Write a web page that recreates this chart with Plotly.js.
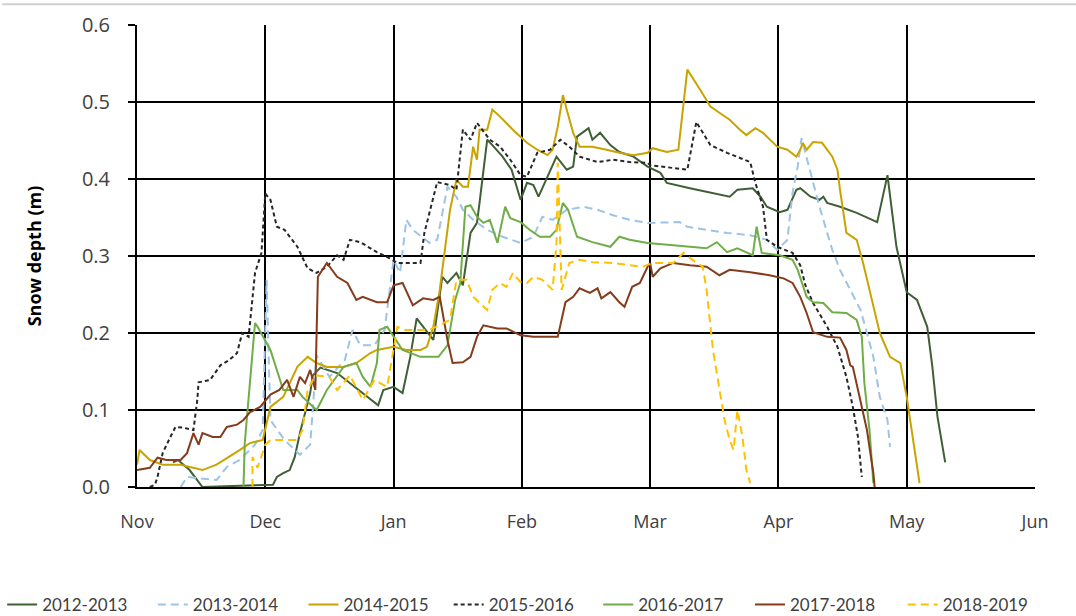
<!DOCTYPE html>
<html>
<head>
<meta charset="utf-8">
<script src="https://cdn.plot.ly/plotly-3.0.1.min.js"></script>
<style>html,body{margin:0;padding:0;background:#fff;}#chart{width:1076px;height:616px;}</style>
</head>
<body>
<div id="chart"></div>
<script>
// x = months since 1 November (0 = Nov, 1 = Dec, ... 7 = Jun); y = snow depth (m)
const monthLabels = ["Nov", "Dec", "Jan", "Feb", "Mar", "Apr", "May", "Jun"];
const seasons = ["2012-2013", "2013-2014", "2014-2015", "2015-2016", "2016-2017", "2017-2018", "2018-2019"];

const s2012_2013 = [[0.28,0.032],[0.32,0.035],[0.41,0.022],[0.51,0],[1.06,0.003],[1.09,0.013],[1.14,0.018],[1.19,0.022],[1.23,0.039],[1.27,0.070],[1.31,0.096],[1.35,0.122],[1.37,0.145],[1.43,0.155],[1.56,0.148],[1.66,0.135],[1.76,0.122],[1.88,0.106],[1.92,0.126],[2.00,0.130],[2.07,0.122],[2.13,0.169],[2.18,0.219],[2.23,0.208],[2.31,0.191],[2.38,0.273],[2.42,0.265],[2.49,0.278],[2.54,0.262],[2.60,0.330],[2.65,0.343],[2.67,0.369],[2.73,0.451],[2.77,0.444],[2.85,0.429],[2.92,0.412],[2.99,0.373],[3.04,0.395],[3.09,0.392],[3.13,0.377],[3.20,0.403],[3.27,0.429],[3.35,0.412],[3.40,0.416],[3.43,0.455],[3.48,0.461],[3.52,0.466],[3.55,0.451],[3.61,0.460],[3.69,0.444],[3.76,0.435],[3.87,0.429],[3.98,0.416],[4.08,0.408],[4.13,0.395],[4.31,0.388],[4.62,0.377],[4.68,0.386],[4.80,0.388],[4.86,0.377],[4.91,0.364],[5.01,0.357],[5.07,0.360],[5.14,0.386],[5.17,0.388],[5.25,0.377],[5.32,0.373],[5.35,0.377],[5.38,0.369],[5.48,0.364],[5.61,0.356],[5.77,0.344],[5.85,0.405],[5.92,0.312],[6.00,0.253],[6.08,0.243],[6.16,0.208],[6.20,0.156],[6.24,0.091],[6.30,0.032]];

const s2013_2014 = [[0.34,0],[0.39,0.013],[0.62,0.009],[0.70,0.026],[0.80,0.035],[0.92,0.055],[0.98,0.074],[1.01,0.269],[1.04,0.087],[1.15,0.061],[1.27,0.042],[1.35,0.055],[1.37,0.100],[1.40,0.171],[1.50,0.143],[1.62,0.165],[1.68,0.204],[1.74,0.184],[1.85,0.184],[1.93,0.204],[2.00,0.295],[2.05,0.278],[2.10,0.347],[2.15,0.334],[2.28,0.317],[2.34,0.321],[2.42,0.390],[2.49,0.377],[2.54,0.360],[2.62,0.347],[2.73,0.334],[2.85,0.325],[2.99,0.317],[3.09,0.325],[3.16,0.351],[3.24,0.347],[3.35,0.360],[3.48,0.364],[3.59,0.360],[3.71,0.353],[3.84,0.347],[3.98,0.343],[4.23,0.344],[4.29,0.338],[4.44,0.334],[4.60,0.330],[4.78,0.327],[4.91,0.321],[4.99,0.308],[5.07,0.321],[5.11,0.382],[5.15,0.416],[5.18,0.453],[5.21,0.434],[5.26,0.399],[5.32,0.364],[5.38,0.330],[5.42,0.308],[5.48,0.282],[5.56,0.256],[5.64,0.230],[5.69,0.200],[5.74,0.169],[5.79,0.117],[5.85,0.087],[5.87,0.052]];

const s2014_2015 = [[0,0.029],[0.02,0.048],[0.10,0.035],[0.20,0.029],[0.34,0.029],[0.51,0.022],[0.62,0.029],[0.72,0.039],[0.80,0.048],[0.88,0.057],[0.98,0.061],[1.04,0.104],[1.14,0.117],[1.25,0.156],[1.33,0.169],[1.40,0.161],[1.48,0.156],[1.61,0.156],[1.71,0.161],[1.82,0.174],[1.87,0.178],[2.00,0.182],[2.10,0.178],[2.21,0.178],[2.26,0.182],[2.31,0.208],[2.36,0.256],[2.42,0.334],[2.44,0.360],[2.49,0.399],[2.54,0.390],[2.58,0.390],[2.62,0.442],[2.65,0.425],[2.67,0.464],[2.73,0.464],[2.77,0.490],[2.83,0.481],[2.93,0.464],[3.04,0.447],[3.12,0.438],[3.20,0.431],[3.24,0.438],[3.28,0.468],[3.32,0.509],[3.35,0.490],[3.40,0.460],[3.45,0.442],[3.55,0.442],[3.66,0.438],[3.76,0.434],[3.87,0.431],[3.98,0.434],[4.02,0.440],[4.13,0.435],[4.22,0.438],[4.26,0.499],[4.29,0.542],[4.39,0.516],[4.47,0.494],[4.54,0.486],[4.62,0.477],[4.70,0.464],[4.75,0.457],[4.82,0.466],[4.88,0.460],[4.99,0.442],[5.07,0.438],[5.14,0.429],[5.17,0.438],[5.19,0.447],[5.22,0.438],[5.27,0.448],[5.34,0.447],[5.42,0.429],[5.46,0.412],[5.48,0.386],[5.53,0.330],[5.61,0.321],[5.66,0.291],[5.71,0.256],[5.79,0.200],[5.87,0.169],[5.95,0.161],[6.00,0.117],[6.05,0.061],[6.10,0.005]];

const s2015_2016 = [[0.10,0],[0.14,0.003],[0.16,0.013],[0.20,0.044],[0.26,0.065],[0.30,0.078],[0.36,0.077],[0.44,0.074],[0.47,0.113],[0.48,0.136],[0.57,0.139],[0.65,0.158],[0.72,0.165],[0.78,0.174],[0.82,0.200],[0.87,0.195],[0.92,0.278],[0.97,0.304],[1.00,0.381],[1.04,0.373],[1.09,0.338],[1.15,0.334],[1.25,0.312],[1.33,0.284],[1.40,0.278],[1.48,0.286],[1.56,0.301],[1.61,0.295],[1.66,0.321],[1.74,0.318],[1.87,0.305],[1.97,0.297],[2.03,0.291],[2.21,0.291],[2.24,0.330],[2.34,0.396],[2.44,0.392],[2.49,0.386],[2.54,0.464],[2.60,0.451],[2.65,0.473],[2.69,0.464],[2.75,0.451],[2.83,0.442],[2.91,0.425],[2.99,0.405],[3.04,0.403],[3.12,0.434],[3.22,0.438],[3.30,0.451],[3.37,0.442],[3.45,0.429],[3.59,0.422],[3.71,0.425],[3.84,0.422],[3.98,0.421],[4.00,0.418],[4.29,0.412],[4.36,0.474],[4.47,0.444],[4.60,0.434],[4.78,0.422],[4.82,0.395],[4.88,0.364],[4.91,0.321],[4.99,0.312],[5.11,0.304],[5.17,0.288],[5.21,0.262],[5.27,0.239],[5.38,0.208],[5.46,0.182],[5.53,0.143],[5.58,0.104],[5.62,0.065],[5.65,0.013]];

const s2016_2017 = [[0.83,0],[0.84,0.057],[0.92,0.213],[0.94,0.208],[1.04,0.178],[1.14,0.126],[1.25,0.126],[1.29,0.117],[1.40,0.100],[1.48,0.126],[1.61,0.156],[1.71,0.161],[1.76,0.143],[1.82,0.130],[1.87,0.161],[1.89,0.204],[1.95,0.208],[2.00,0.195],[2.07,0.178],[2.21,0.169],[2.35,0.169],[2.42,0.184],[2.48,0.243],[2.52,0.265],[2.56,0.364],[2.60,0.366],[2.65,0.351],[2.70,0.343],[2.75,0.347],[2.81,0.317],[2.87,0.364],[2.91,0.349],[2.99,0.344],[3.06,0.334],[3.14,0.325],[3.22,0.325],[3.27,0.334],[3.32,0.369],[3.36,0.360],[3.43,0.325],[3.55,0.318],[3.69,0.312],[3.76,0.325],[3.84,0.321],[3.98,0.317],[4.18,0.314],[4.44,0.310],[4.52,0.318],[4.60,0.305],[4.68,0.310],[4.80,0.301],[4.83,0.338],[4.87,0.304],[5.01,0.301],[5.11,0.295],[5.15,0.282],[5.22,0.247],[5.27,0.240],[5.35,0.239],[5.42,0.227],[5.53,0.226],[5.61,0.217],[5.65,0.195],[5.67,0.135],[5.71,0.074],[5.74,0.005]];

const s2017_2018 = [[0,0.022],[0.10,0.025],[0.16,0.038],[0.23,0.035],[0.34,0.035],[0.39,0.044],[0.44,0.070],[0.48,0.055],[0.51,0.070],[0.59,0.065],[0.65,0.065],[0.70,0.078],[0.78,0.081],[0.83,0.087],[0.88,0.097],[0.96,0.104],[1.04,0.120],[1.11,0.126],[1.17,0.139],[1.22,0.117],[1.27,0.143],[1.31,0.135],[1.35,0.152],[1.39,0.126],[1.41,0.273],[1.48,0.291],[1.56,0.273],[1.64,0.265],[1.71,0.243],[1.76,0.247],[1.87,0.240],[1.95,0.240],[2.00,0.262],[2.07,0.265],[2.15,0.236],[2.23,0.245],[2.31,0.243],[2.36,0.247],[2.42,0.191],[2.46,0.161],[2.54,0.162],[2.60,0.169],[2.65,0.195],[2.70,0.210],[2.81,0.206],[2.88,0.206],[2.99,0.197],[3.09,0.195],[3.28,0.195],[3.34,0.240],[3.40,0.247],[3.45,0.258],[3.53,0.252],[3.59,0.258],[3.62,0.245],[3.69,0.253],[3.76,0.240],[3.80,0.234],[3.86,0.260],[3.92,0.265],[3.98,0.286],[4.00,0.291],[4.02,0.273],[4.08,0.284],[4.18,0.291],[4.31,0.288],[4.44,0.286],[4.54,0.275],[4.62,0.282],[4.78,0.279],[4.93,0.275],[5.04,0.271],[5.11,0.265],[5.17,0.247],[5.22,0.226],[5.27,0.201],[5.38,0.195],[5.48,0.194],[5.53,0.178],[5.56,0.158],[5.58,0.156],[5.64,0.113],[5.69,0.074],[5.74,0.018],[5.75,0]];

const s2018_2019 = [[0.90,0],[0.90,0.039],[0.94,0.025],[1.00,0.055],[1.04,0.061],[1.25,0.061],[1.29,0.074],[1.33,0.126],[1.39,0.145],[1.50,0.143],[1.56,0.126],[1.66,0.145],[1.76,0.113],[1.85,0.139],[1.95,0.130],[2.03,0.208],[2.09,0.204],[2.28,0.204],[2.44,0.217],[2.49,0.269],[2.57,0.269],[2.62,0.247],[2.73,0.230],[2.77,0.256],[2.83,0.265],[2.88,0.260],[2.93,0.278],[2.99,0.266],[3.04,0.265],[3.09,0.273],[3.16,0.269],[3.24,0.256],[3.27,0.317],[3.28,0.421],[3.31,0.256],[3.37,0.291],[3.45,0.295],[3.55,0.292],[3.71,0.291],[3.94,0.286],[4.02,0.291],[4.18,0.291],[4.26,0.304],[4.33,0.295],[4.41,0.286],[4.44,0.256],[4.49,0.178],[4.54,0.126],[4.58,0.087],[4.62,0.061],[4.65,0.048],[4.68,0.100],[4.72,0.065],[4.75,0.022],[4.78,0.005]];

const seriesData = [s2012_2013, s2013_2014, s2014_2015, s2015_2016, s2016_2017, s2017_2018, s2018_2019];
const colors = ["#3f5f35", "#9dc3e6", "#c9a400", "#262626", "#70ad47", "#843c1c", "#ffc000"];
const dashes = ["solid", "8px,5px", "solid", "4px,3px", "solid", "solid", "8px,5px"];

// one legend per season so the row can span the full page width like the original
const legendIds = ["legend", "legend2", "legend3", "legend4", "legend5", "legend6", "legend7"];
const legendX = [0.002, 0.142, 0.282, 0.417, 0.556, 0.697, 0.839];

const traces = seriesData.map((d, i) => ({
  type: "scatter",
  mode: "lines",
  name: seasons[i],
  legend: legendIds[i],
  x: d.map(p => p[0]),
  y: d.map(p => p[1]),
  line: {color: colors[i], width: 2, dash: dashes[i]},
  hoverinfo: "x+y+name"
}));

const layout = {
  width: 1076,
  height: 616,
  margin: {l: 137, r: 41, t: 25, b: 129},
  paper_bgcolor: "#ffffff",
  plot_bgcolor: "#ffffff",
  font: {family: "Lato, Open Sans, sans-serif", color: "#404040"},
  showlegend: true,
  xaxis: {
    range: [0, 7],
    tickvals: [0, 1, 2, 3, 4, 5, 6, 7],
    ticktext: monthLabels,
    showgrid: true,
    gridcolor: "#000000",
    gridwidth: 2,
    zeroline: false,
    showline: true,
    linecolor: "#000000",
    linewidth: 2,
    ticks: "",
    automargin: false,
    ticklabelstandoff: 17,
    tickfont: {size: 18, color: "#404040", family: "Open Sans, sans-serif"}
  },
  yaxis: {
    range: [0, 0.6],
    tickvals: [0, 0.1, 0.2, 0.3, 0.4, 0.5, 0.6],
    tickformat: ".1f",
    showgrid: true,
    gridcolor: "#000000",
    gridwidth: 2,
    zeroline: false,
    showline: true,
    linecolor: "#000000",
    linewidth: 2,
    ticks: "outside",
    ticklen: 7,
    tickwidth: 2,
    tickcolor: "#000000",
    automargin: false,
    ticklabelstandoff: 14,
    tickfont: {size: 20, color: "#404040", family: "Open Sans, sans-serif"},
    title: {text: "Snow depth (m)", font: {size: 18, color: "#000000", family: "Open Sans, sans-serif", weight: "bold"}, standoff: 36}
  },
  shapes: [
    {type: "line", xref: "paper", yref: "paper", x0: -0.15, x1: 1.05, y0: 1.045, y1: 1.045, line: {color: "#cfcfcf", width: 2}}
  ]
};

legendIds.forEach((id, i) => {
  layout[id] = {
    orientation: "h",
    xref: "container",
    yref: "container",
    x: legendX[i], xanchor: "left",
    y: 0.018, yanchor: "middle",
    font: {size: 17, color: "#404040", family: "Lato, sans-serif"},
    itemwidth: 30,
    bgcolor: "rgba(0,0,0,0)",
    borderwidth: 0
  };
});

Plotly.newPlot("chart", traces, layout, {displayModeBar: false, staticPlot: true});
</script>
</body>
</html>
